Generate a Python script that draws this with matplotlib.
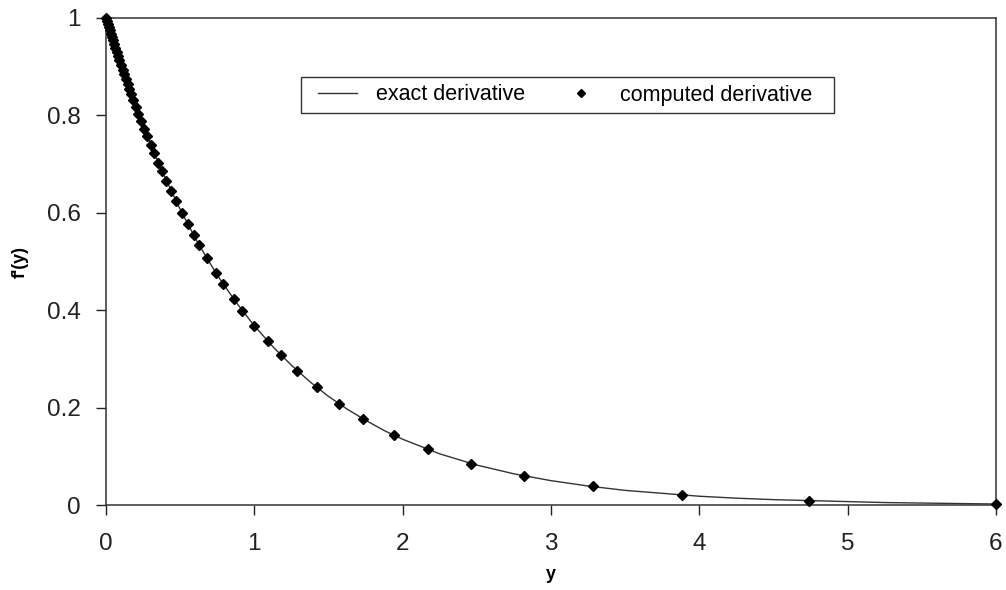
import matplotlib.pyplot as plt
from matplotlib.patches import Rectangle

# exact derivative, points
exact_y_pos = [0, 0.125, 0.25, 0.375, 0.5, 0.625, 0.75, 0.875, 1, 1.125, 1.25, 1.375,
               1.5, 1.625, 1.75, 1.875, 2, 2.25, 2.5, 2.75, 3, 3.25, 3.5, 3.75, 4,
               4.25, 4.5, 4.75, 5, 5.25, 5.5, 5.75, 6]
exact_fp = [1.000, 0.882, 0.779, 0.687, 0.607, 0.535, 0.472, 0.417, 0.368, 0.325, 0.287,
            0.253, 0.223, 0.197, 0.174, 0.153, 0.135, 0.105, 0.082, 0.064, 0.050, 0.039,
            0.030, 0.024, 0.018, 0.014, 0.011, 0.009, 0.007, 0.005, 0.004, 0.003, 0.002]

# computed derivative (stretched grid, dense near the wall)
comp_y_pos = [0.0, 0.007, 0.013, 0.019, 0.025, 0.033, 0.040, 0.047, 0.055, 0.064, 0.072,
              0.081, 0.091, 0.101, 0.112, 0.123, 0.134, 0.146, 0.158, 0.171, 0.185,
              0.201, 0.219, 0.237, 0.257, 0.279, 0.302, 0.326, 0.352, 0.379, 0.407, 0.438,
              0.470, 0.51, 0.55, 0.59, 0.63, 0.68, 0.74, 0.79, 0.86, 0.92, 1.0, 1.09, 1.18,
              1.29, 1.42, 1.57, 1.73, 1.94, 2.17, 2.46, 2.82, 3.28, 3.88, 4.74, 6.0]
comp_fp = [1.000, 0.993, 0.987, 0.981, 0.975, 0.968, 0.961, 0.954, 0.946, 0.938, 0.931,
           0.922, 0.913, 0.904, 0.894, 0.884, 0.875, 0.864, 0.854, 0.843, 0.831,
           0.818, 0.803, 0.789, 0.773, 0.757, 0.739, 0.722, 0.703, 0.685, 0.666, 0.645,
           0.625, 0.600, 0.577, 0.554, 0.533, 0.507, 0.477, 0.454, 0.423, 0.399, 0.368,
           0.336, 0.307, 0.275, 0.242, 0.208, 0.177, 0.144, 0.114, 0.085, 0.060, 0.038,
           0.021, 0.009, 0.002]

x_ticks = [0, 1, 2, 3, 4, 5, 6]
y_ticks = [0, 0.2, 0.4, 0.6, 0.8, 1]
y_tick_labels = ['0', '0.2', '0.4', '0.6', '0.8', '1']

plt.rcParams['font.family'] = ['Liberation Sans', 'DejaVu Sans']

W, H = 1006, 590
fig = plt.figure(figsize=(W / 100, H / 100), dpi=100)
ax = fig.add_axes([106 / W, 1 - 505 / H, (996 - 106) / W, (505 - 18) / H])

ax.plot(exact_y_pos, exact_fp, color='#333333', linewidth=1.0, label='exact derivative')
ax.plot(comp_y_pos, comp_fp, linestyle='none', marker='D', markersize=5,
        color='black', label='computed derivative', clip_on=False, zorder=3)

ax.set_xlim(0, 6)
ax.set_ylim(0, 1)
ax.set_xticks(x_ticks)
ax.set_xticklabels([str(t) for t in x_ticks])
ax.set_yticks(y_ticks)
ax.set_yticklabels(y_tick_labels)
ax.tick_params(direction='out', length=7, width=1, labelsize=17.5, colors='#222222')
ax.tick_params(axis='x', pad=13)
ax.tick_params(axis='y', pad=11)

for s in ax.spines.values():
    s.set_linewidth(1.1)
    s.set_color('#333333')

ax.set_xlabel('y', fontsize=13, fontweight='bold', labelpad=8)
ax.set_ylabel("f'(y)", fontsize=13, fontweight='bold', labelpad=13)

# legend entries without frame, box drawn separately to match the original width
leg = fig.legend(*ax.get_legend_handles_labels(), loc='center left',
                 bbox_to_anchor=(318 / W, 1 - 95 / H), borderaxespad=0, borderpad=0,
                 ncol=2, fontsize=15.5, frameon=False,
                 handlelength=1.81, handletextpad=0.88, columnspacing=1.7,
                 markerscale=0.8)
fig.patches.append(Rectangle((301 / W, 1 - 113 / H), 533 / W, 36 / H,
                             transform=fig.transFigure, fill=False,
                             edgecolor='#333333', linewidth=1.0))

fig.savefig('out.png', dpi=100)
